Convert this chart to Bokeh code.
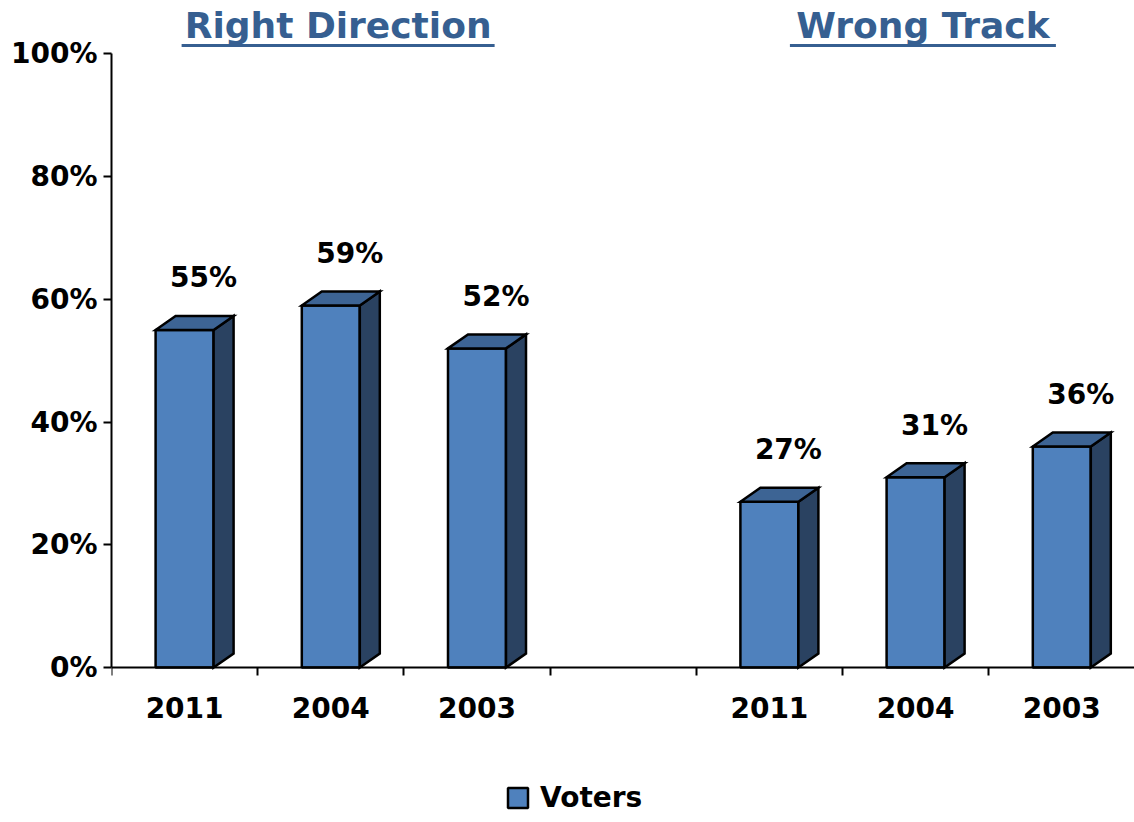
from bokeh.plotting import figure
from bokeh.models import Range1d, FixedTicker, Legend, LegendItem, ColumnDataSource
from bokeh.core.properties import value
from bokeh.embed import file_html
from bokeh.resources import INLINE

# ---- data ----
groups = ["Right Direction", "Wrong Track"]
years = ["2011", "2004", "2003"]
right_direction = [55, 59, 52]
wrong_track = [27, 31, 36]
series_name = "Voters"
y_ticks = [0, 20, 40, 60, 80, 100]

# ---- geometry / style ----
W, H = 1134, 822
PX_X = 146.2          # px per category
PX_Y = 6.137          # px per percent
TOP_PAD = 53.3        # px from top of figure to 100%
BOT_PAD = 155         # px from 0% to bottom of figure
LEFT_PAD = 111
FRONT = "#4F81BD"
TOP = "#3D6494"
SIDE = "#2A4261"
TITLE_C = "#365F91"
FONT = "DejaVu Sans"
LW = 2.5
hw = 29 / PX_X        # half bar width
dx = 20 / PX_X        # depth x
dy = 14 / PX_Y        # depth y

group_starts = [0, 4]
centers, vals, labels_txt = [], [], []
for g, series in zip(group_starts, [right_direction, wrong_track]):
    for i, v in enumerate(series):
        centers.append(g + i + 0.5)
        vals.append(v)
        labels_txt.append(f"{v}%")

p = figure(width=W, height=H, x_range=Range1d(0, (W - LEFT_PAD) / PX_X),
           y_range=Range1d(-BOT_PAD / PX_Y, 100 + TOP_PAD / PX_Y),
           output_backend="svg", toolbar_location=None,
           min_border_left=LEFT_PAD, min_border_right=0, min_border_top=0,
           min_border_bottom=0)
p.outline_line_color = None
p.xgrid.visible = False
p.ygrid.visible = False
p.background_fill_color = "white"
p.border_fill_color = "white"

# front faces
src = ColumnDataSource(dict(
    left=[c - hw for c in centers], right=[c + hw for c in centers],
    top=vals, bottom=[0] * len(vals)))
front = p.quad(left="left", right="right", top="top", bottom="bottom", source=src,
               fill_color=FRONT, line_color="black", line_width=LW)

# side faces
side_xs = [[c + hw, c + hw + dx, c + hw + dx, c + hw] for c in centers]
side_ys = [[0, dy, v + dy, v] for v in vals]
p.patches(side_xs, side_ys, fill_color=SIDE, line_color="black", line_width=LW,
          line_join="miter")
# top faces
top_xs = [[c - hw, c - hw + dx, c + hw + dx, c + hw] for c in centers]
top_ys = [[v, v + dy, v + dy, v] for v in vals]
p.patches(top_xs, top_ys, fill_color=TOP, line_color="black", line_width=LW,
          line_join="miter")

# data labels
p.text(x=[c + 19 / PX_X for c in centers], y=[v + 52 / PX_Y for v in vals],
       text=labels_txt, text_font=value(FONT), text_font_style="bold",
       text_font_size="28px", text_color="black", text_align="center",
       text_baseline="alphabetic")

# group titles (underlined)
title_x = [g + 1.55 for g in group_starts]
title_y = 100 + (TOP_PAD - 25) / PX_Y
p.text(x=title_x, y=[title_y] * 2, text=groups, text_font=value(FONT),
       text_font_style="bold", text_font_size="36px", text_color=TITLE_C,
       text_align="center", text_baseline="alphabetic")
title_w_px = [313, 266]
ul_y = 100 + (TOP_PAD - 45) / PX_Y
p.segment(x0=[x - w / 2 / PX_X for x, w in zip(title_x, title_w_px)],
          x1=[x + w / 2 / PX_X for x, w in zip(title_x, title_w_px)],
          y0=[ul_y] * 2, y1=[ul_y] * 2, line_color=TITLE_C, line_width=3)

# x axis (drawn at y = 0)
xax = p.xaxis[0]
xax.fixed_location = 0
xax.ticker = FixedTicker(ticks=centers, minor_ticks=list(range(0, 8)))
xax.major_label_overrides = {c: y for c, y in zip(centers, years * 2)}
xax.major_tick_line_color = None
xax.major_tick_out = 0
xax.major_tick_in = 0
xax.minor_tick_out = 8
xax.minor_tick_in = 0
xax.minor_tick_line_color = "black"
xax.minor_tick_line_width = 2
xax.axis_line_color = "black"
xax.axis_line_width = 2
xax.major_label_standoff = 21
xax.major_label_text_font = FONT
xax.major_label_text_font_style = "bold"
xax.major_label_text_font_size = "28px"
xax.major_label_text_color = "black"

# y axis
yax = p.yaxis[0]
yax.bounds = (0, 100)
yax.ticker = FixedTicker(ticks=y_ticks, minor_ticks=[])
yax.major_label_overrides = {t: f"{t}%" for t in y_ticks}
yax.major_tick_out = 8
yax.major_tick_in = 0
yax.major_tick_line_width = 2
yax.minor_tick_line_color = None
yax.axis_line_color = "black"
yax.axis_line_width = 2
yax.major_label_standoff = 6
yax.major_label_text_font = FONT
yax.major_label_text_font_style = "bold"
yax.major_label_text_font_size = "28px"
yax.major_label_text_color = "black"

# legend (inside the frame, below the axis labels)
legend = Legend(items=[LegendItem(label=series_name, renderers=[front])],
                location=(394, 8), orientation="horizontal",
                glyph_width=25, glyph_height=25, label_standoff=10,
                label_text_font=FONT, label_text_font_style="bold",
                label_text_font_size="28px", label_text_color="black",
                padding=0, margin=0, spacing=0,
                border_line_color=None, background_fill_alpha=0)
p.add_layout(legend)

open("out.html", "w").write(file_html(p, INLINE))
